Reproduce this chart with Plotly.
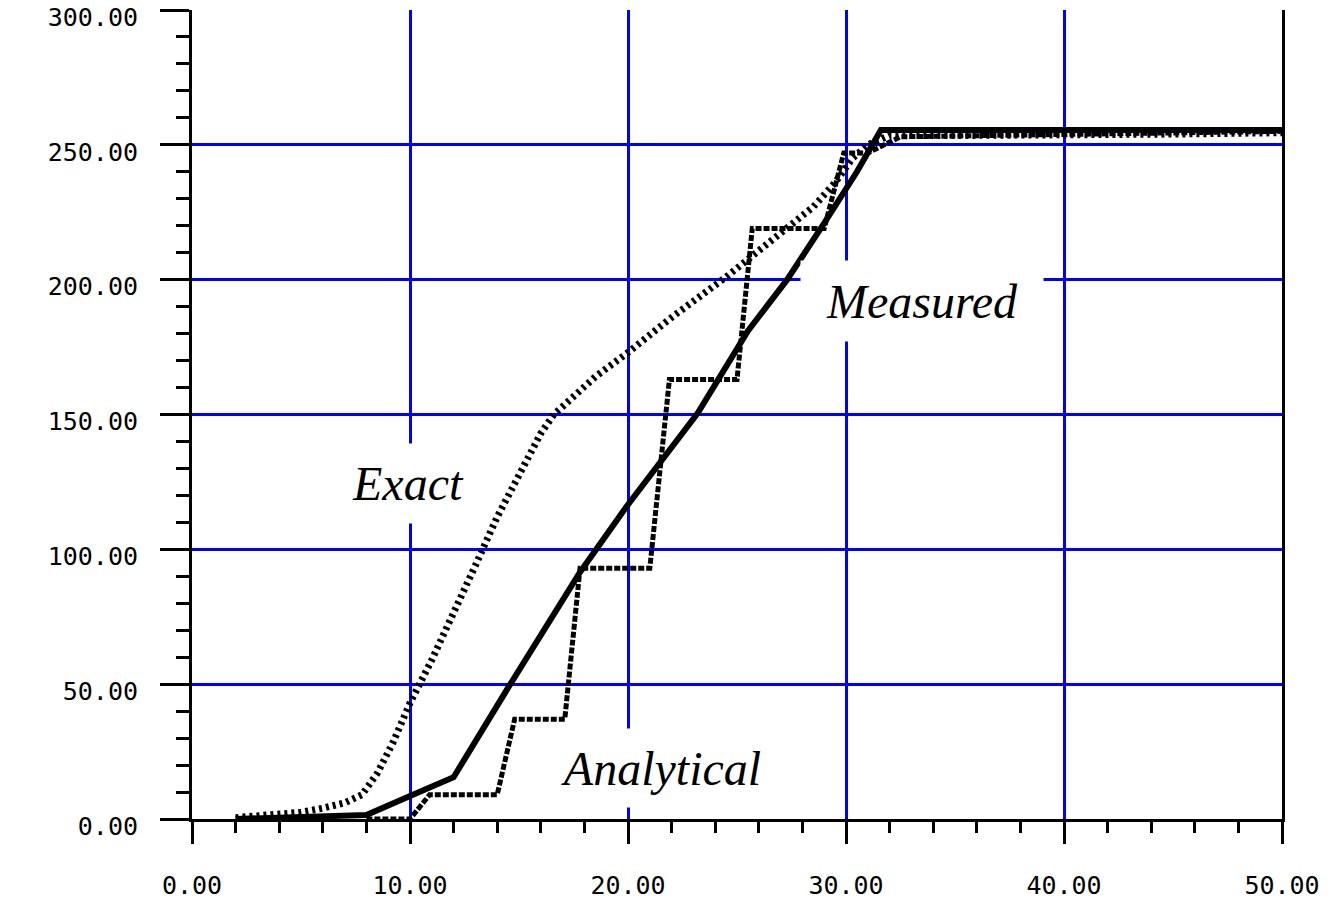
import plotly.graph_objects as go

# ---- data ----
measured_x = [2, 5, 8, 10, 12, 14.6, 17.8, 19.9, 23.2, 25.5, 27.3, 29, 30.5, 31.6, 40, 50]
measured_y = [0, 0.5, 1.5, 8.5, 15.5, 50, 91.5, 115.5, 150.5, 181, 200, 221, 240, 255.5, 255.5, 255.5]

exact_x = [2, 3, 4, 5, 6, 7, 7.8, 8.5, 9.2, 10, 11, 12, 13, 14, 15, 16, 16.6, 17.5, 18.5,
           20, 22, 24.5, 26.5, 28.5, 29.5, 30.3, 31, 32, 36, 40, 45, 50]
exact_y = [0.5, 1, 1.5, 2.5, 4, 6, 9, 17, 28, 43, 59, 76, 94, 112, 128, 143, 150, 157, 164,
           173, 186, 201, 214, 227, 236, 245, 250, 253.5, 253.5, 254, 254, 254.5]

analytical_x = [8, 10, 10.9, 14, 14.8, 17.1, 17.8, 21, 21.9, 25, 25.7, 29, 29.9, 31, 32.5, 40, 50]
analytical_y = [0, 0, 9, 9, 37, 37, 93, 93, 163, 163, 219, 219, 247, 247, 253, 254, 255]

x_range = [0, 50]
y_range = [0, 300]
x_tick_vals = [0, 10, 20, 30, 40, 50]
y_tick_vals = [0, 50, 100, 150, 200, 250, 300]
y_grid_vals = [50, 100, 150, 200, 250]

labels = [
    dict(text="Exact", x=9.9, y=124.5, w=150, h=77),
    dict(text="Measured", x=33.5, y=192.1, w=240, h=78),
    dict(text="Analytical", x=21.5, y=18.9, w=240, h=76),
]

BLUE = "#0000FF"
fig = go.Figure()

fig.add_trace(go.Scatter(x=[], y=[], yaxis="y2", showlegend=False, hoverinfo="skip"))

fig.add_trace(go.Scatter(x=exact_x, y=exact_y, mode="lines", name="Exact",
                         line=dict(color="black", width=7, dash="3px,4px")))
fig.add_trace(go.Scatter(x=analytical_x, y=analytical_y, mode="lines", name="Analytical",
                         line=dict(color="black", width=5, dash="6px,2px")))
fig.add_trace(go.Scatter(x=measured_x, y=measured_y, mode="lines", name="Measured",
                         line=dict(color="black", width=6)))

tickfont = dict(family="DejaVu Sans Mono", size=25, color="black")

fig.update_layout(
    width=1338, height=900,
    margin=dict(l=192, r=56, t=10, b=81),
    paper_bgcolor="white", plot_bgcolor="white",
    showlegend=False,
    xaxis=dict(range=x_range, tickvals=x_tick_vals, tickformat=".2f", automargin=False,
               showgrid=True, gridcolor=BLUE, gridwidth=3,
               showline=True, linecolor="black", linewidth=3, mirror=False,
               ticks="outside", ticklen=22, tickwidth=3, tickcolor="black",
               minor=dict(dtick=2, tick0=0, ticks="outside", ticklen=11, tickwidth=3,
                          tickcolor="black", showgrid=False),
               zeroline=False, tickfont=tickfont, ticklabelstandoff=20,
               ticklabeloverflow="allow"),
    yaxis=dict(range=y_range, tickvals=y_tick_vals, tickformat=".2f", automargin=False,
               showgrid=False,
               showline=True, linecolor="black", linewidth=3, mirror=True,
               ticks="outside", ticklen=29, tickwidth=3, tickcolor="black",
               minor=dict(dtick=10, tick0=0, ticks="outside", ticklen=13, tickwidth=3,
                          tickcolor="black", showgrid=False),
               zeroline=False, tickfont=tickfont, ticklabelstandoff=17,
               ticklabelshift=7, ticklabeloverflow="allow"),
    yaxis2=dict(range=y_range, overlaying="y", tickvals=y_grid_vals, automargin=False,
                showgrid=True, gridcolor=BLUE, gridwidth=3,
                showticklabels=False, showline=False, ticks="", zeroline=False),
)

for lb in labels:
    fig.add_annotation(x=lb["x"], y=lb["y"], xref="x", yref="y", text=lb["text"],
                       showarrow=False, bgcolor="white", width=lb["w"], height=lb["h"],
                       font=dict(family="Liberation Serif", size=48, color="black", style="italic"))

fig.write_html("out.html")
